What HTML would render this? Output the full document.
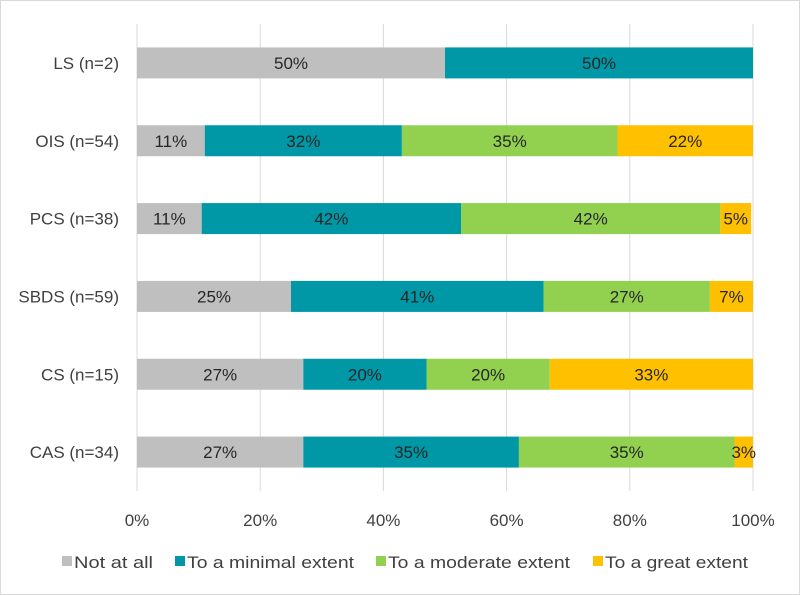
<!DOCTYPE html>
<html><head><meta charset="utf-8"><style>
body{margin:0;background:#fff}
svg{display:block;font-family:"Liberation Sans",Arial,sans-serif}
</style></head><body>
<svg id="chart" width="800" height="595">
<rect x="0.5" y="0.5" width="799" height="594" fill="#fff" stroke="#d9d9d9"/>
<g id="grid"></g><g id="bars"></g><g id="ylabels"></g><g id="xlabels"></g><g id="legend"></g>
</svg>
<script>
const categories = ["LS (n=2)","OIS (n=54)","PCS (n=38)","SBDS (n=59)","CS (n=15)","CAS (n=34)"];
const seriesNames = ["Not at all","To a minimal extent","To a moderate extent","To a great extent"];
const notAtAll = [50,11,10.5,25,27,27];
const minimal = [50,32,42.1,41,20,35];
const moderate = [0,35,42.1,27,20,35];
const great = [0,22,5,7,33,3];
const xTicks = [0,20,40,60,80,100];
const colors = ["#BFBFBF","#0098A6","#92D050","#FFC000"];
const series=[notAtAll,minimal,moderate,great];
const NS="http://www.w3.org/2000/svg";
const x0=137,x1=753,yTop=24,yBottom=491;
const X=v=>x0+(x1-x0)*v/100;
const band=(yBottom-yTop)/categories.length;
const Y=i=>yTop+band*(i+0.5);
const bh=31;
function mk(t,a,p){const e=document.createElementNS(NS,t);for(const k in a)e.setAttribute(k,a[k]);p.appendChild(e);return e;}
const grid=document.getElementById('grid');
xTicks.forEach(t=>{
 const l=mk('line',{x1:X(t),x2:X(t),y1:yTop,y2:yBottom,stroke:'#d9d9d9','stroke-width':1},grid);
 
 
 const tx=mk('text',{x:X(t),y:526,'text-anchor':'middle','font-size':17,fill:'#404040'},document.getElementById('xlabels'));
 tx.textContent=t+'%';
 
 
});
const bars=document.getElementById('bars');
categories.forEach((c,i)=>{
 let acc=0;
 series.forEach((s,j)=>{
  const v=s[i]; if(!v){return;}
  const r=mk('rect',{x:X(acc),y:Y(i)-bh/2,width:X(acc+v)-X(acc),height:bh,fill:colors[j]},bars);
  
  
  const t=mk('text',{x:(X(acc)+X(acc+v))/2,y:Y(i)+6,'text-anchor':'middle','font-size':17,fill:'#262626'},bars);
  t.textContent=Math.round(v)+'%';
  
  
  acc+=v;
 });
 const yl=mk('text',{x:119,y:Y(i)+6,'text-anchor':'end','font-size':17,fill:'#404040'},document.getElementById('ylabels'));
 yl.textContent=c;
 
 
});
const lg=document.getElementById('legend');
const lx=[62,175,376,593];
const lw=[79,167,182,143];
seriesNames.forEach((n,j)=>{
 const g=mk('g',{},lg);
 
 
 mk('rect',{x:lx[j],y:556,width:10,height:10,fill:colors[j]},g);
 const t=mk('text',{x:lx[j]+12,y:568,'font-size':17,fill:'#404040',textLength:lw[j],lengthAdjust:'spacingAndGlyphs'},g);
 t.textContent=n;
});
</script>
</body></html>
